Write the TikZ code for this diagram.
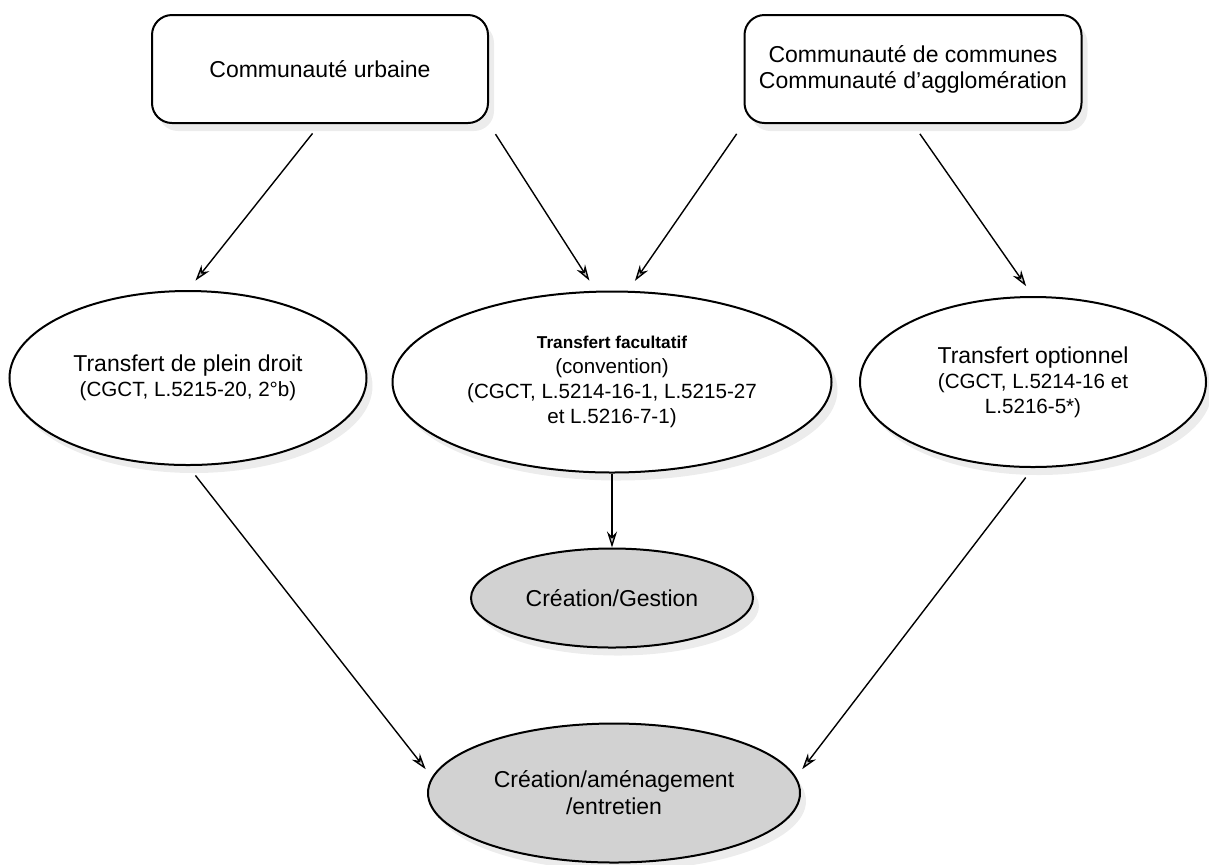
\documentclass[tikz,border=0pt]{standalone}
\usepackage{fontspec}
\setmainfont{Liberation Sans}
\usepackage{tikz}
\usetikzlibrary{shapes.geometric}
\usetikzlibrary{shadows}
\usetikzlibrary{arrows.meta}
\tikzset{cbox/.style={rectangle,rounded corners=10pt,draw=black,line width=1pt,fill=white,minimum width=168pt,minimum height=54pt,inner sep=0pt,align=center,font=\fontsize{11.5}{13}\selectfont,drop shadow={shadow xshift=3pt,shadow yshift=-4pt,fill=gray!30}}}
\tikzset{trans/.style={ellipse,draw=black,line width=1pt,fill=white,inner sep=0pt,align=center,font=\fontsize{10.3}{12.6}\selectfont,drop shadow={shadow xshift=3pt,shadow yshift=-4pt,fill=gray!30}}}
\tikzset{act/.style={trans,fill=gray!35,font=\fontsize{11.5}{13.5}\selectfont}}
\tikzset{flow/.style={line width=0.7pt,-{Stealth[length=8pt,width=5pt,fill=gray!40]}}}
\newcommand{\ttitle}[1]{{\fontsize{11.5}{12.6}\selectfont #1}}

\begin{document}
\begin{tikzpicture}[x=0.5pt,y=-0.5pt]
\useasboundingbox (0,0) rectangle (1209,864);

% communautes
\node[cbox] (cu) at (320,69) {Communauté urbaine};
\node[cbox,minimum width=168.5pt] (cc) at (913,69) {Communauté de communes\\Communauté d'agglomération};

% transferts
\node[trans,minimum width=178.5pt,minimum height=87pt] (pd) at (188,378) {\ttitle{Transfert de plein droit}\\(CGCT, L.5215-20, 2°b)};
\node[trans,minimum width=219.5pt,minimum height=90.5pt] (fac) at (612,382) {{\fontsize{8.6}{12.6}\selectfont\bfseries Transfert facultatif}\\(convention)\\(CGCT, L.5214-16-1, L.5215-27\\et L.5216-7-1)};
\node[trans,minimum width=173pt,minimum height=85pt] (opt) at (1033,382) {\ttitle{Transfert optionnel}\\(CGCT, L.5214-16 et\\L.5216-5*)};

% competences
\node[act,minimum width=141pt,minimum height=49.5pt] (cg) at (612,598) {Création/Gestion};
\node[act,minimum width=186pt,minimum height=69.5pt] (ce) at (614,793) {Création/aménagement\\/entretien};

\foreach \a / \b in {cu.south/pd.north,cu.south east/fac.100,cc.south west/fac.80,cc.south/opt.north}
{
	\draw[flow,shorten <=6pt,shorten >=6pt] (\a) -- (\b);
}
\draw[flow] (fac.south) -- (cg.north);
\foreach \a / \b in {pd.south/ce.175,opt.south/ce.5}
{
	\draw[flow,shorten <=6pt,shorten >=5pt] (\a) -- (\b);
}
\end{tikzpicture}
\end{document}
